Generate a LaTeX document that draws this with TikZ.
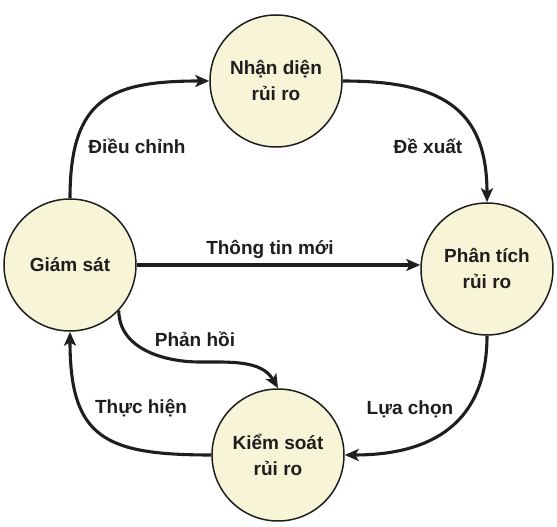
\documentclass[tikz,border=0pt]{standalone}
\usepackage{fontspec}
\setmainfont{Liberation Sans}
\usepackage{tikz}
\usetikzlibrary{ arrows.meta, % For the arrow tips
                 positioning, % For easy node-relative placements
               }

\definecolor{cream}{HTML}{F8F4D8}
\definecolor{ink}{HTML}{1E1E1E}

\tikzset{
  stage/.style={circle, draw=ink, line width=1.5pt, fill=cream,
                minimum size=132pt, inner sep=0pt, align=center,
                text=ink, font=\bfseries\fontsize{19}{26}\selectfont},
  flow/.style={-{Stealth[length=14pt,width=12pt,inset=3.5pt]}, line width=3.1pt, ink},
  tag/.style={text=ink, font=\bfseries\fontsize{19}{22}\selectfont},
}

\begin{document}
\begin{tikzpicture}[x=1pt,y=1pt]
  \useasboundingbox (0,0) rectangle (557,527);

  % the four stages
  \node[stage] (ident) at (276,446) {Nhận diện\\rủi ro};
  \node[stage] (anal) at (487,258) {Phân tích\\rủi ro};
  \node[stage] (ctrl) at (278,72) {Kiểm soát\\rủi ro};
  \node[stage] (mon) at (70,262) {Giám sát};

  % labels on the arrows
  \node[tag] (adjust) at (137,381) {Điều chỉnh};
  \node[tag] (propose) at (428,381) {Đề xuất};
  \node[tag] (newinfo) at (270,278) {Thông tin mới};
  \node[tag] (feedback) at (195,188) {Phản hồi};
  \node[tag] (apply) at (141,119) {Thực hiện};
  \node[tag] (choose) at (410,118) {Lựa chọn};

  \coordinate (bend) at (200,165);

  \draw[flow] (mon.north) to[out=90,in=180,looseness=1.4] (ident.west);
  \draw[flow] (ident.east) to[out=0,in=90,looseness=1.3] (anal.north);
  \draw[flow] (mon.east) -- (mon.east -| anal.west);
  \draw[flow] (anal.south) to[out=-90,in=0,looseness=1.2] (ctrl.east);
  \draw[flow] (ctrl.west) to[out=180,in=-90,looseness=1.45] (mon.south);
  \draw[flow] (mon.-43) to[out=-90,in=180] (bend) to[out=0,in=120] (ctrl.north);

\end{tikzpicture}
\end{document}
